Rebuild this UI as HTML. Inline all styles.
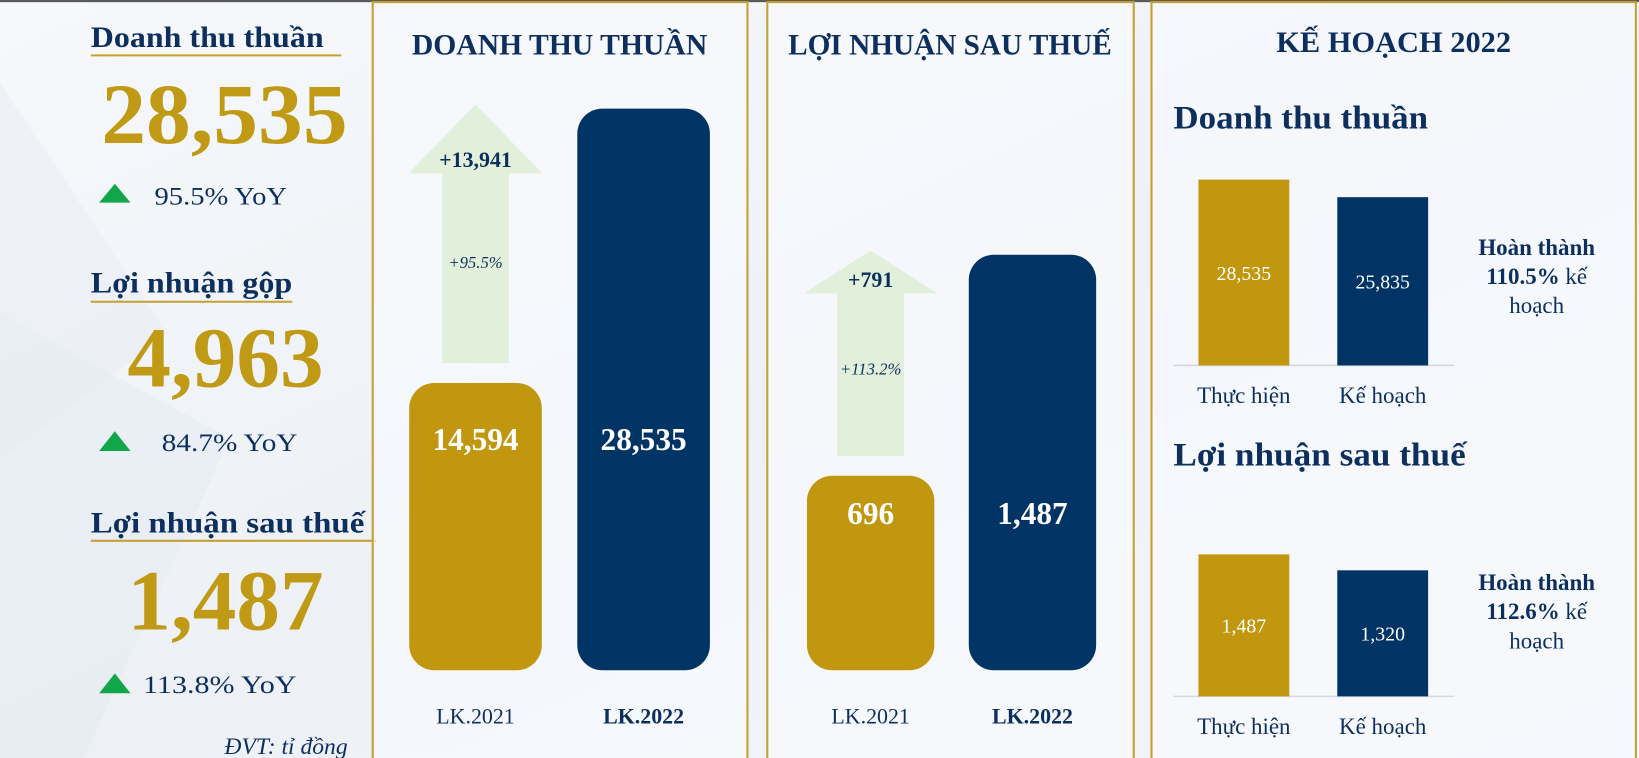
<!DOCTYPE html>
<html><head><meta charset="utf-8"><style>
html,body{margin:0;padding:0;width:1639px;height:758px;overflow:hidden;background:#f4f7fb}
svg{display:block}
text{font-family:"Liberation Serif","DejaVu Serif",serif}
</style></head><body>
<svg id="chart" width="1639" height="758" viewBox="0 0 1570 726" xmlns="http://www.w3.org/2000/svg">
<defs>
<linearGradient id="bg" x1="0" y1="0" x2="1" y2="1">
<stop offset="0" stop-color="#f6f8fb"/><stop offset="0.5" stop-color="#edf1f6"/><stop offset="1" stop-color="#f3f6fa"/>
</linearGradient>
</defs>
<rect x="0" y="0" width="1570" height="726" fill="url(#bg)"/>
<polygon points="0,300 220,420 80,726 0,726" fill="#e3e9f1" opacity="0.45"/>
<polygon points="0,80 160,320 0,440" fill="#e6ebf2" opacity="0.45"/>
<rect x="0" y="0" width="1570" height="2" fill="#555"/>

<g fill="#0d2f5e">
<text x="87" y="45" font-size="28" font-weight="bold" textLength="223" lengthAdjust="spacingAndGlyphs">Doanh thu thuần</text>
<line x1="87" y1="53" x2="327" y2="53" stroke="#c5a032" stroke-width="2"/>
<text x="97" y="137" font-size="82" font-weight="bold" fill="#c09a14" textLength="236" lengthAdjust="spacingAndGlyphs">28,535</text>
<polygon points="95,194 125,194 110,176" fill="#11a64a"/>
<text x="148" y="196" font-size="24" textLength="127" lengthAdjust="spacingAndGlyphs">95.5% YoY</text>

<text x="87" y="280" font-size="28" font-weight="bold" textLength="193" lengthAdjust="spacingAndGlyphs">Lợi nhuận gộp</text>
<line x1="87" y1="289" x2="280" y2="289" stroke="#c5a032" stroke-width="2"/>
<text x="122" y="370" font-size="82" font-weight="bold" fill="#c09a14" textLength="188" lengthAdjust="spacingAndGlyphs">4,963</text>
<polygon points="95,432 125,432 110,413" fill="#11a64a"/>
<text x="155" y="432" font-size="24" textLength="130" lengthAdjust="spacingAndGlyphs">84.7% YoY</text>

<text x="87" y="510" font-size="28" font-weight="bold" textLength="262" lengthAdjust="spacingAndGlyphs">Lợi nhuận sau thuế</text>
<line x1="87" y1="518" x2="360" y2="518" stroke="#c5a032" stroke-width="2"/>
<text x="122" y="603" font-size="82" font-weight="bold" fill="#c09a14" textLength="188" lengthAdjust="spacingAndGlyphs">1,487</text>
<polygon points="95,664 125,664 110,645" fill="#11a64a"/>
<text x="137" y="664" font-size="24" textLength="147" lengthAdjust="spacingAndGlyphs">113.8% YoY</text>
<text x="215" y="722" font-size="22" font-style="italic" textLength="118" lengthAdjust="spacingAndGlyphs">ĐVT: tỉ đồng</text>
</g>

<rect x="357" y="2" width="359" height="730" fill="#f8fafd" fill-opacity="0.7" stroke="#c5a032" stroke-width="2"/>
<rect x="735" y="2" width="351" height="730" fill="#f8fafd" fill-opacity="0.7" stroke="#c5a032" stroke-width="2"/>
<rect x="1103" y="2" width="464" height="730" fill="#f8fafd" fill-opacity="0.7" stroke="#c5a032" stroke-width="2"/>

<text x="536" y="52" font-size="28" font-weight="bold" fill="#0d2f5e" text-anchor="middle" textLength="283" lengthAdjust="spacingAndGlyphs">DOANH THU THUẦN</text>
<text x="910" y="52" font-size="28" font-weight="bold" fill="#0d2f5e" text-anchor="middle" textLength="310" lengthAdjust="spacingAndGlyphs">LỢI NHUẬN SAU THUẾ</text>
<text x="1335" y="50" font-size="28" font-weight="bold" fill="#0d2f5e" text-anchor="middle" textLength="225" lengthAdjust="spacingAndGlyphs">KẾ HOẠCH 2022</text>

<text x="1124" y="123" font-size="31" font-weight="bold" fill="#0d2f5e" textLength="244" lengthAdjust="spacingAndGlyphs">Doanh thu thuần</text>
<text x="1124" y="446" font-size="31" font-weight="bold" fill="#0d2f5e" textLength="280" lengthAdjust="spacingAndGlyphs">Lợi nhuận sau thuế</text>

<g id="marks"></g>
</svg>
<script>
var yoyCategories = ["LK.2021", "LK.2022"];
var revenueValues = [14594, 28535];
var netProfitValues = [696, 1487];
var revenueChangeLabels = ["+13,941", "+95.5%"];
var netProfitChangeLabels = ["+791", "+113.2%"];
var planCategories = ["Thực hiện", "Kế hoạch"];
var planRevenueValues = [28535, 25835];
var planNetProfitValues = [1487, 1320];
var planRevenueCompletion = "110.5%";
var planNetProfitCompletion = "112.6%";

var NS = "http://www.w3.org/2000/svg";
var g = document.getElementById("marks");
var GOLD = "#c1970f", NAVY = "#003465";
function mk(tag, attrs, txt) {
  var e = document.createElementNS(NS, tag);
  for (var k in attrs) e.setAttribute(k, attrs[k]);
  if (txt !== undefined) e.textContent = txt;
  g.appendChild(e);
  return e;
}
function fmt(v) { return v.toLocaleString("en-US"); }

function yoyPanel(values, cfg, changeLabels, key) {
  function y(v) { return cfg.base - v / cfg.maxV * cfg.h; }
  var ay1 = y(values[1]) - 4, ay2 = y(values[0]) - 19;
  var cx = cfg.x[0] + cfg.w / 2, hw = 64, sw = 32, hh = cfg.head;
  var arrow = mk("polygon", {points: [
    [cx, ay1], [cx + hw, ay1 + hh], [cx + sw, ay1 + hh], [cx + sw, ay2],
    [cx - sw, ay2], [cx - sw, ay1 + hh], [cx - hw, ay1 + hh]].map(function(p){return p.join(",");}).join(" "),
    fill: "#e2efda"});
  
  
  var t1 = mk("text", {x: cx, y: ay1 + hh - 6, "font-size": 21, "font-weight": "bold", fill: "#0d2f5e", "text-anchor": "middle"}, changeLabels[0]);
  
  
  var t2 = mk("text", {x: cx, y: (ay1 + hh + ay2) / 2, "font-size": 16, "font-style": "italic", fill: "#0d2f5e", "text-anchor": "middle"}, changeLabels[1]);
  
  
  values.forEach(function(v, i) {
    var top = y(v);
    var r = mk("rect", {x: cfg.x[i], y: top, width: cfg.w, height: cfg.base - top, rx: 24, fill: i === 0 ? GOLD : NAVY});
    
    
    var vt = mk("text", {x: cfg.x[i] + cfg.w / 2, y: cfg.valY, "font-size": 30, "font-weight": "bold", fill: "#fff", "text-anchor": "middle"}, fmt(v));
    
    
    var ct = mk("text", {x: cfg.x[i] + cfg.w / 2, y: 693, "font-size": 21, "font-weight": i === 1 ? "bold" : "normal", fill: "#0d2f5e", "text-anchor": "middle"}, yoyCategories[i]);
    
    
  });
}
yoyPanel(revenueValues, {x: [392, 553], w: 127, base: 642, h: 538, maxV: 28535, head: 66, valY: 431}, revenueChangeLabels, "revenue");
yoyPanel(netProfitValues, {x: [773, 928], w: 122, base: 642, h: 398, maxV: 1487, head: 41, valY: 502}, netProfitChangeLabels, "net-profit");

function planPanel(values, base, h, maxV, completion, hy, key) {
  function y(v) { return base - v / maxV * h; }
  var xs = [1148, 1281], w = 87;
  var ax = mk("line", {x1: 1124, y1: base, x2: 1393, y2: base, stroke: "#d4d7dc", "stroke-width": 1.5});
  
  
  values.forEach(function(v, i) {
    var top = y(v);
    var r = mk("rect", {x: xs[i], y: top, width: w, height: base - top, fill: i === 0 ? GOLD : NAVY});
    
    
    var vt = mk("text", {x: xs[i] + w / 2, y: (top + base) / 2 + 7, "font-size": 19, fill: "#fff", "text-anchor": "middle"}, fmt(v));
    
    
    var ct = mk("text", {x: xs[i] + w / 2, y: base + 36, "font-size": 22, fill: "#0d2f5e", "text-anchor": "middle"}, planCategories[i]);
    
    
  });
  var a = mk("text", {x: 1472, y: hy, "font-size": 22, "font-weight": "bold", fill: "#0d2f5e", "text-anchor": "middle"}, "Hoàn thành");
  
  
  var b = mk("text", {x: 1472, y: hy + 28, "font-size": 22, fill: "#0d2f5e", "text-anchor": "middle"});
  
  
  var s1 = document.createElementNS(NS, "tspan"); s1.setAttribute("font-weight", "bold"); s1.textContent = completion; b.appendChild(s1);
  var s2 = document.createElementNS(NS, "tspan"); s2.textContent = " kế"; b.appendChild(s2);
  var c = mk("text", {x: 1472, y: hy + 56, "font-size": 22, fill: "#0d2f5e", "text-anchor": "middle"}, "hoạch");
  
  
}
planPanel(planRevenueValues, 350, 178, 28535, planRevenueCompletion, 244, "revenue");
planPanel(planNetProfitValues, 667, 136, 1487, planNetProfitCompletion, 565, "net-profit");
</script>
</body></html>
